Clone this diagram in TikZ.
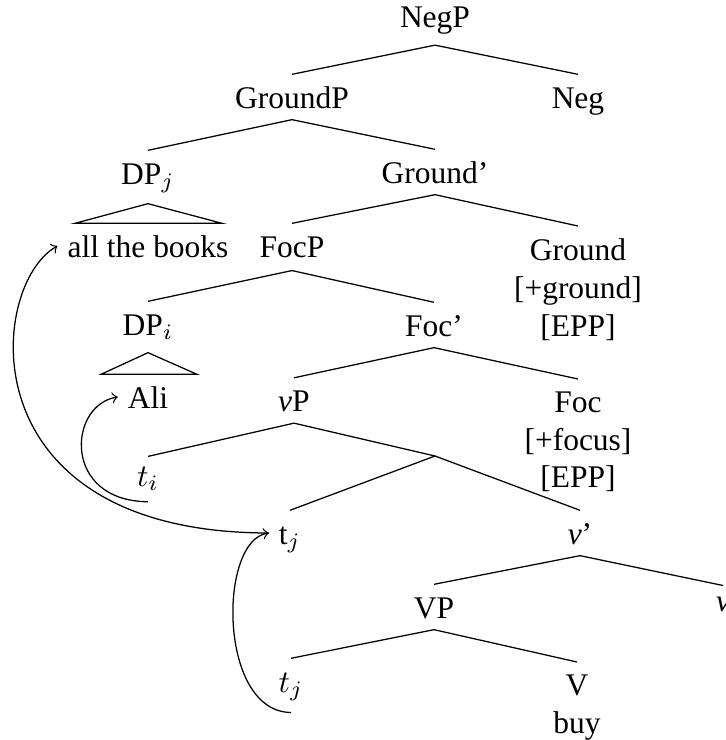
\documentclass[tikz,border=0pt]{standalone}
\usepackage{fontspec}
\setmainfont{Liberation Serif}
\usetikzlibrary{calc}
\begin{document}
\begin{tikzpicture}[x=0.3175pt,y=-0.3175pt,
  lab/.style={inner xsep=3pt,inner ysep=0pt,text height=10.5pt,text depth=3.5pt,anchor=base},
  feat/.style={inner xsep=3pt,inner ysep=3.8pt,align=center,anchor=north},
  br/.style={line width=0.4pt},
  mv/.style={->,line width=0.4pt}]
\useasboundingbox (0,0) rectangle (726,740);
% nodes
\node[lab,text depth=5.4pt] (negp) at (435,27.5) {NegP};
\node[lab] (groundp) at (292,108) {GroundP};
\node[lab] (neg) at (578,108) {Neg};
\node[lab] (dpj) at (148,184) {DP$_j$};
\node[lab] (gbar) at (435,183) {Ground'};
\node[lab] (books) at (148,257) {all the books};
\node[lab,text depth=4.1pt] (focp) at (292,257) {FocP};
\node[feat] (ground) at (578,226) {Ground\\{[+ground]}\\{[EPP]}};
\node[lab] (dpi) at (148,335) {DP$_i$};
\node[lab] (focbar) at (434,336) {Foc'};
\node[lab] (ali) at (148,408) {Ali};
\node[lab] (vp) at (294,411.5) {\textit{v}P};
\node[feat] (foc) at (578,379) {Foc\\{[+focus]}\\{[EPP]}};
\coordinate (vx) at (435,456);
\node[lab,text height=9.2pt,text depth=4.8pt] (ti) at (148,486) {$t_i$};
\node[lab] (tjm) at (290,544) {t$_j$};
\node[lab] (vbar) at (580,544) {\textit{v}'};
\node[lab] (vpp) at (434,618) {VP};
\node[lab,text height=7.9pt] (vh) at (723,611) {\textit{v}};
\node[lab,text depth=6.3pt] (tjl) at (291,692) {$t_j$};
\node[feat] (vv) at (577,662) {V\\buy};
% branches
\draw[br] (negp.south) -- (groundp.north);
\draw[br] (negp.south) -- (neg.north);
\draw[br] (groundp.south) -- (dpj.north);
\draw[br] (groundp.south) -- (gbar.north);
\draw[br] (gbar.south) -- (focp.north);
\draw[br] (gbar.south) -- (ground.north);
\draw[br] (focp.south) -- (dpi.north);
\draw[br] (focp.south) -- (focbar.north);
\draw[br] (focbar.south) -- (vp.north);
\draw[br] (focbar.south) -- (foc.north);
\draw[br] (vp.south) -- (ti.north);
\draw[br] (vp.south) -- (vx);
\draw[br] (vx) -- (tjm.north);
\draw[br] (vx) -- (vbar.north);
\draw[br] (vbar.south) -- (vpp.north);
\draw[br] (vbar.south) -- (vh.north);
\draw[br] (vpp.south) -- (tjl.north);
\draw[br] (vpp.south) -- (vv.north);
% triangles
\draw[br] ($(dpj.south)+(0,8)$) -- ($(books.north)+(-73,0)$) -- ($(books.north)+(74,0)$) -- cycle;
\draw[br] ($(dpi.south)+(0,6)$) -- ($(ali.north)+(-47,0)$) -- ($(ali.north)+(49,0)$) -- cycle;
% movement arrows
\draw[mv] (tjm.west) .. controls (-35,533) and (-12,285) .. (books.west);
\draw[mv] (ti.south) .. controls (62,501) and (68,405) .. (ali.west);
\draw[mv] (tjl.south) .. controls (218,712) and (218,540) .. (tjm.west);
\end{tikzpicture}
\end{document}
